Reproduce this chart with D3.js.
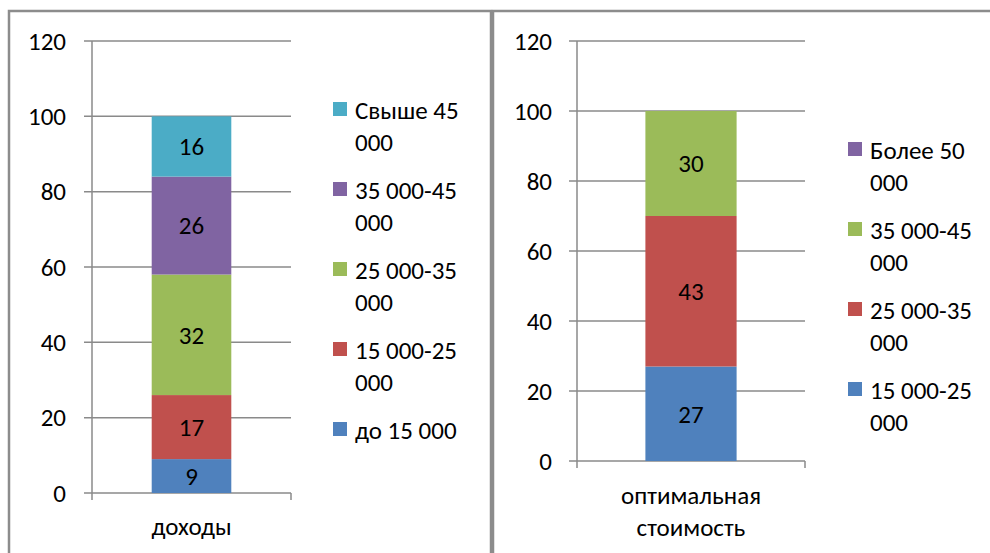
<!DOCTYPE html>
<html>
<head>
<meta charset="utf-8">
<script src="https://cdn.jsdelivr.net/npm/d3@7"></script>
<style>
  body { margin: 0; background: #fff; }
  svg { display: block; font-family: Carlito, Calibri, Lato, sans-serif; }
</style>
</head>
<body>
<svg id="chart" width="990" height="553"></svg>
<script>
// left chart: income brackets (stacked, bottom to top)
const incomeCategories = ["доходы"];
const incomeSeries = ["до 15 000", "15 000-25 000", "25 000-35 000", "35 000-45 000", "Свыше 45 000"];
const incomeValues = [9, 17, 32, 26, 16];
const incomeColors = ["#4f81bd", "#c0504d", "#9bbb59", "#8064a2", "#4bacc6"];

// right chart: optimal cost (stacked, bottom to top)
const costCategories = ["оптимальная стоимость"];
const costSeries = ["15 000-25 000", "25 000-35 000", "35 000-45 000", "Более 50 000"];
const costValues = [27, 43, 30, 0];
const costColors = ["#4f81bd", "#c0504d", "#9bbb59", "#8064a2"];

const yTicks = [0, 20, 40, 60, 80, 100, 120];

const svg = d3.select("#chart");
const FONT = 25;
const GRID = "#8a8a8a";

// chart frames
svg.append("rect").attr("x", 9).attr("y", 11).attr("width", 482).attr("height", 600)
  .attr("fill", "none").attr("stroke", "#8c8c8c").attr("stroke-width", 2.5);
svg.append("rect").attr("x", 493).attr("y", 11).attr("width", 520).attr("height", 600)
  .attr("fill", "none").attr("stroke", "#8c8c8c").attr("stroke-width", 2.5);

function drawChart(cfg) {
  const g = svg.append("g");

  const y = d3.scaleLinear().domain([0, 120]).range([cfg.bottom, cfg.top]);
  const x = d3.scaleBand().domain(cfg.categories).range([cfg.left, cfg.right]).padding(0);

  // gridlines + y ticks
  g.selectAll("line.grid")
    .data(yTicks)
    .join("line")
    .attr("x1", cfg.left - 8)
    .attr("x2", cfg.right)
    .attr("y1", d => y(d))
    .attr("y2", d => y(d))
    .attr("stroke", GRID)
    .attr("stroke-width", 1.5);

  // y axis line
  g.append("line")
    .attr("x1", cfg.left).attr("x2", cfg.left)
    .attr("y1", y(120)).attr("y2", y(0) + 7)
    .attr("stroke", GRID).attr("stroke-width", 1.5);
  // category boundary tick
  g.append("line")
    .attr("x1", cfg.right).attr("x2", cfg.right)
    .attr("y1", y(0)).attr("y2", y(0) + 7)
    .attr("stroke", GRID).attr("stroke-width", 1.5);

  g.selectAll("text.ytick")
    .data(yTicks)
    .join("text")
    .attr("x", cfg.tickX)
    .attr("y", d => y(d))
    .attr("dy", "0.35em")
    .attr("text-anchor", "end")
    .attr("font-size", FONT)
    .attr("fill", "#000")
    .text(d => d);

  // stacked segments
  const rows = cfg.series.map((name, i) => ({ name, value: cfg.values[i], color: cfg.colors[i] }));
  let acc = 0;
  rows.forEach(r => { r.y0 = acc; acc += r.value; r.y1 = acc; });

  const bw = x.bandwidth() * 0.4;
  const bx = x(cfg.categories[0]) + (x.bandwidth() - bw) / 2;

  g.selectAll("rect.seg")
    .data(rows.filter(r => r.value > 0))
    .join("rect")
    .attr("x", bx)
    .attr("width", bw)
    .attr("y", d => y(d.y1))
    .attr("height", d => y(d.y0) - y(d.y1))
    .attr("fill", d => d.color);

  g.selectAll("text.seg")
    .data(rows.filter(r => r.value > 0))
    .join("text")
    .attr("x", bx + bw / 2)
    .attr("y", d => y((d.y0 + d.y1) / 2))
    .attr("dy", "0.35em")
    .attr("text-anchor", "middle")
    .attr("font-size", FONT)
    .attr("fill", "#000")
    .text(d => d.value);

  // category label (possibly two lines)
  const cat = g.append("text")
    .attr("x", x(cfg.categories[0]) + x.bandwidth() / 2)
    .attr("y", cfg.catY)
    .attr("text-anchor", "middle")
    .attr("font-size", FONT)
    .attr("fill", "#000");
  wrap(cat, cfg.categories[0], cfg.catWrap, 32);

  // legend, top entry = last series
  const legend = rows.slice().reverse();
  legend.forEach((d, i) => {
    const ly = cfg.legendY + i * 80;
    g.append("rect")
      .attr("x", cfg.legendX).attr("y", ly - 8)
      .attr("width", 14).attr("height", 14)
      .attr("fill", d.color);
    const t = g.append("text")
      .attr("x", cfg.legendX + 22)
      .attr("y", ly)
      .attr("dy", "0.35em")
      .attr("font-size", FONT)
      .attr("fill", "#000");
    wrap(t, d.name, 125, 32);
  });
}

function wrap(textSel, str, maxW, lineH) {
  const words = str.split(" ");
  const x = textSel.attr("x");
  let line = [];
  let tspan = textSel.append("tspan").attr("x", x);
  words.forEach(w => {
    line.push(w);
    tspan.text(line.join(" "));
    if (tspan.node().getComputedTextLength() > maxW && line.length > 1) {
      line.pop();
      tspan.text(line.join(" "));
      line = [w];
      tspan = textSel.append("tspan").attr("x", x).attr("dy", lineH).text(w);
    }
  });
}

drawChart({
  categories: incomeCategories, series: incomeSeries, values: incomeValues, colors: incomeColors,
  left: 92, right: 291, top: 41, bottom: 493, tickX: 66,
  catY: 535, catWrap: 180, legendX: 333, legendY: 110
});

drawChart({
  categories: costCategories, series: costSeries, values: costValues, colors: costColors,
  left: 577, right: 805, top: 41, bottom: 461, tickX: 552,
  catY: 504, catWrap: 160, legendX: 848, legendY: 150
});
</script>
</body>
</html>
